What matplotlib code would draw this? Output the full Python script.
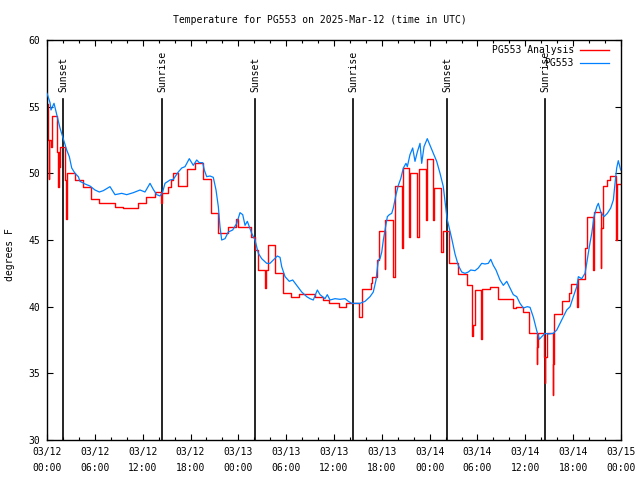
import matplotlib
matplotlib.use("Agg")
import matplotlib.pyplot as plt
import matplotlib.transforms as mtransforms
from matplotlib.ticker import MultipleLocator

plt.rcParams['font.family'] = ['DejaVu Sans Mono']
plt.rcParams['font.size'] = 7

# hours since 2025-03-12 00:00 UTC
obs_hours = [0, 0.38, 0.50, 0.88, 1.29, 1.63, 2.04, 2.47, 2.80, 3.10, 3.51, 3.93, 4.14,
             4.77, 5.39, 6.02, 6.56, 7.06, 7.90, 8.53, 9.37, 10.00, 10.83, 11.67, 12.29,
             12.92, 13.33, 13.76, 14.18, 14.51, 14.80, 15.43, 15.84, 16.47, 16.90, 17.31,
             17.85, 18.35, 18.78, 19.10, 19.53, 19.73, 20.03, 20.45, 20.86, 21.20, 21.49,
             21.70, 21.91, 22.33, 22.74, 23.29, 23.80, 24.21, 24.55, 24.84, 25.13, 25.68,
             26.09, 26.51, 26.93, 27.56, 27.97, 28.39, 28.89, 29.23, 29.44, 29.86, 30.39,
             30.82, 31.32, 31.95, 32.58, 32.99, 33.40, 33.91, 34.25, 34.87, 35.16, 35.50,
             36.13, 36.75, 37.38, 37.80, 38.22, 38.85, 39.26, 39.89, 40.52, 40.93, 41.27,
             41.56, 41.77, 41.99, 42.19, 42.40, 42.69, 42.94, 43.24, 43.44, 43.78, 44.07,
             44.37, 44.70, 45.03, 45.20, 45.53, 45.87, 46.16, 46.45, 46.79, 47.00, 47.29,
             47.70, 48.04, 48.46, 48.88, 49.30, 49.71, 50.18, 50.77, 51.18, 51.59, 52.02,
             52.43, 52.85, 53.15, 53.69, 54.10, 54.53, 54.94, 55.36, 55.66, 55.98, 56.32,
             56.82, 57.24, 57.67, 58.08, 58.49, 58.92, 59.33, 59.75, 60.25, 60.59, 61.01,
             61.43, 61.76, 62.06, 62.47, 62.89, 63.51, 63.94, 64.35, 64.77, 65.19, 65.61,
             66.02, 66.45, 66.65, 67.07, 67.49, 67.70, 68.03, 68.33, 68.62, 68.96, 69.16,
             69.46, 69.87, 70.29, 70.71, 71.04, 71.25, 71.46, 71.66, 71.96]
obs_temps = [56.0, 55.3, 54.75, 55.25, 54.25, 53.4, 52.6, 51.75, 51.25, 50.4, 50.0, 49.75, 49.4,
             49.2, 49.05, 48.75, 48.6, 48.7, 49.0, 48.4, 48.5, 48.4, 48.55, 48.75, 48.6,
             49.25, 48.8, 48.4, 48.3, 48.6, 49.25, 49.5, 49.55, 50.1, 50.4, 50.5,
             51.1, 50.6, 51.0, 50.8, 50.8, 50.25, 49.75, 49.8, 49.7, 48.75, 47.5,
             46.0, 45.0, 45.1, 45.6, 45.75, 46.25, 47.05, 46.9, 46.1, 46.4, 45.5,
             45.0, 44.0, 43.6, 43.25, 43.25, 43.5, 43.8, 43.7, 43.0, 42.25, 41.9,
             42.0, 41.6, 41.1, 40.75, 40.6, 40.5, 41.25, 40.9, 40.6, 40.9, 40.5,
             40.6, 40.55, 40.6, 40.4, 40.25, 40.25, 40.25, 40.4, 40.75, 41.1, 42.0,
             43.5, 43.6, 44.1, 45.0, 45.75, 46.75, 46.9, 47.0, 47.4, 48.4, 49.1,
             49.6, 50.4, 50.75, 50.5, 51.4, 51.9, 50.9, 51.6, 52.25, 50.75, 52.0,
             52.6, 52.1, 51.5, 50.9, 50.0, 49.0, 46.6, 45.1, 43.95, 43.1, 42.6,
             42.5, 42.6, 42.75, 42.7, 42.9, 43.25, 43.2, 43.25, 43.55, 43.1, 42.75,
             42.0, 41.6, 41.9, 41.4, 40.9, 40.75, 40.25, 39.9, 40.0, 39.95, 39.2,
             38.2, 37.55, 37.75, 38.0, 37.95, 38.0, 38.25, 38.75, 39.25, 39.75, 40.0,
             40.75, 41.5, 42.25, 42.1, 42.5, 43.25, 44.5, 45.5, 46.75, 47.5, 47.75,
             47.1, 46.75, 47.0, 47.4, 48.0, 49.25, 50.4, 50.95, 50.25]

ana_hours = [0, 0.16, 0.21, 0.29, 0.50, 0.59, 1.29, 1.42, 1.48, 1.51, 1.57, 2.26, 2.38, 2.45,
             2.55, 3.51, 4.48, 5.52, 6.56, 7.56, 8.53, 9.50, 11.45, 12.42, 13.55, 14.26,
             14.46, 15.22, 15.55, 15.84, 16.47, 17.52, 18.57, 19.61, 20.53, 21.49, 22.67,
             23.71, 24.00, 25.55, 26.15, 26.51, 27.35, 27.43, 27.76, 28.60, 29.57, 30.57,
             31.65, 33.62, 34.58, 35.41, 36.67, 37.51, 39.18, 39.48, 40.61, 40.73, 41.43,
             41.68, 42.34, 42.44, 43.44, 43.65, 44.49, 44.66, 45.45, 45.54, 46.45, 46.63,
             47.54, 47.70, 48.36, 48.51, 49.42, 49.64, 50.47, 51.59, 52.65, 53.35, 53.48,
             53.69, 54.40, 54.57, 55.57, 56.61, 57.58, 58.49, 58.83, 59.67, 60.50, 61.43,
             61.51, 61.63, 62.34, 62.43, 62.51, 62.66, 63.44, 63.51, 63.60, 64.57, 65.52,
             65.69, 66.52, 66.65, 67.49, 67.70, 68.53, 68.62, 69.46, 69.53, 69.71, 70.21,
             70.62, 71.38, 71.54, 72.0]
ana_temps = [55.2, 52.5, 49.6, 52.5, 52.0, 54.3, 51.6, 49.0, 51.6, 50.5, 52.0, 49.5, 46.55, 48.4,
             50.0, 49.5, 49.0, 48.1, 47.75, 47.8, 47.5, 47.4, 47.8, 48.2, 48.6, 47.8,
             48.55, 49.0, 49.5, 50.0, 49.05, 50.3, 50.8, 49.6, 47.05, 45.5, 45.95,
             46.55, 45.95, 45.2, 44.25, 42.75, 41.4, 42.75, 44.6, 42.55, 41.05, 40.75,
             40.95, 40.75, 40.5, 40.25, 39.95, 40.25, 39.2, 41.3, 41.75, 42.25, 43.5,
             45.7, 42.8, 46.5, 42.25, 49.05, 44.4, 50.4, 45.25, 50.0, 45.25, 50.3,
             46.5, 51.05, 46.5, 48.9, 44.1, 45.7, 43.25, 42.45, 41.6, 37.8, 38.6,
             41.25, 37.55, 41.3, 41.45, 40.55, 40.6, 39.9, 39.95, 39.6, 38.05, 35.7,
             36.95, 38.05, 36.2, 34.25, 36.2, 38.05, 33.4, 35.7, 39.45, 40.45, 41.0,
             41.7, 40.0, 42.05, 44.4, 46.75, 42.75, 47.1, 42.9, 45.9, 49.05, 49.5,
             49.8, 45.0, 49.2, 49.2]

sun_hours = [2.0, 14.43, 26.09, 38.38, 50.18, 62.47]
sun_labels = ["Sunset", "Sunrise", "Sunset", "Sunrise", "Sunset", "Sunrise"]

tick_hours = [0, 6, 12, 18, 24, 30, 36, 42, 48, 54, 60, 66, 72]
tick_labels = ["03/12\n00:00", "03/12\n06:00", "03/12\n12:00", "03/12\n18:00",
               "03/13\n00:00", "03/13\n06:00", "03/13\n12:00", "03/13\n18:00",
               "03/14\n00:00", "03/14\n06:00", "03/14\n12:00", "03/14\n18:00",
               "03/15\n00:00"]

fig = plt.figure(figsize=(6.4, 4.8), dpi=100)
ax = fig.add_axes([47 / 640, 40 / 480, 574 / 640, 400 / 480])

trans = mtransforms.blended_transform_factory(ax.transData, ax.transAxes)
for h, lab in zip(sun_hours, sun_labels):
    ax.axvline(h, ymin=0, ymax=0.8525, color='black', lw=1.2, zorder=1)
    ax.text(h, 0.87, lab, transform=trans, rotation=90, ha='center', va='bottom')

ax.plot(ana_hours, ana_temps, color='#ff0000', lw=1.0, drawstyle='steps-post', zorder=2)
ax.plot(obs_hours, obs_temps, color='#0080ff', lw=0.9, zorder=3)

ax.set_xlim(0, 72)
ax.set_ylim(30, 60)
ax.set_xticks(tick_hours)
ax.set_xticklabels(tick_labels)
ax.xaxis.set_minor_locator(MultipleLocator(2))
ax.set_yticks(range(30, 61, 5))
ax.tick_params(which='both', direction='in', top=True, right=True, width=0.8)
ax.tick_params(which='major', length=4, pad=5)
ax.tick_params(which='minor', length=2.5)
for t in ax.get_xticklabels():
    t.set_linespacing(1.7)
for s in ax.spines.values():
    s.set_linewidth(1.0)

# legend drawn gnuplot style: right aligned text, sample line to the right
ax.text(0.918, 0.975, "PG553 Analysis", transform=ax.transAxes, ha='right', va='center')
ax.plot([0.929, 0.979], [0.975, 0.975], transform=ax.transAxes, color='#ff0000', lw=1.0)
ax.text(0.918, 0.9425, "PG553", transform=ax.transAxes, ha='right', va='center')
ax.plot([0.929, 0.979], [0.9425, 0.9425], transform=ax.transAxes, color='#0080ff', lw=0.9)

fig.text(0.5, 1 - 20 / 480, "Temperature for PG553 on 2025-Mar-12 (time in UTC)",
         ha='center', va='center')
fig.text(10 / 640, 0.47, "degrees F", rotation=90, ha='center', va='center')

fig.savefig("out.png", dpi=100)
